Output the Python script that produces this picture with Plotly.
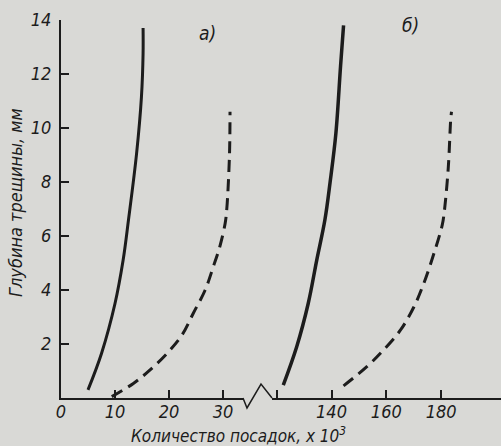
import plotly.graph_objects as go

# Panel a) (left x segment, 0..33 thousand landings)
a_solid_x = [5.0, 7.5, 10.0, 11.5, 12.5, 14.0, 14.9, 15.2, 15.2]
a_solid_y = [0.3, 1.65, 3.5, 5.1, 6.6, 9.06, 11.16, 12.76, 13.7]
a_dash_x = [9.4, 13.4, 16.5, 19.9, 22.4, 24.5, 26.7, 28.2, 29.4, 30.4, 30.7, 31.2, 31.3]
a_dash_y = [0.05, 0.54, 1.04, 1.71, 2.33, 3.14, 4.0, 4.86, 5.6, 6.47, 7.0, 9.0, 10.6]

# Panel б) (right x segment, 120..200 thousand landings)
b_solid_x = [122.4, 127.3, 131.5, 134.6, 137.6, 139.5, 141.6, 143.3, 144.4]
b_solid_y = [0.48, 1.9, 3.5, 5.1, 6.6, 8.0, 9.8, 12.28, 13.8]
b_dash_x = [144.4, 152.9, 159.0, 165.2, 170.1, 173.7, 177.4, 180.4, 181.1, 182.6, 183.5, 183.8]
b_dash_y = [0.45, 1.16, 1.78, 2.52, 3.38, 4.25, 5.36, 6.4, 6.84, 8.5, 10.3, 10.6]

y_ticks = [2, 4, 6, 8, 10, 12, 14]
x1_ticks = [0, 10, 20, 30]
x2_ticks = [140, 160, 180]
x2_first_tick = 120

INK = "#1c1c1c"
BG = "#d9d9d6"
FONT = "Liberation Sans Narrow, DejaVu Sans Condensed, Roboto Condensed, Roboto, sans-serif"

fig = go.Figure()
fig.add_trace(go.Scatter(x=a_solid_x, y=a_solid_y, mode="lines", xaxis="x", yaxis="y",
                         line=dict(color=INK, width=3, shape="spline"), showlegend=False))
fig.add_trace(go.Scatter(x=a_dash_x, y=a_dash_y, mode="lines", xaxis="x", yaxis="y",
                         line=dict(color=INK, width=3, shape="spline", dash="12px,7px"), showlegend=False))
fig.add_trace(go.Scatter(x=b_solid_x, y=b_solid_y, mode="lines", xaxis="x2", yaxis="y",
                         line=dict(color=INK, width=3.5, shape="spline"), showlegend=False))
fig.add_trace(go.Scatter(x=b_dash_x, y=b_dash_y, mode="lines", xaxis="x2", yaxis="y",
                         line=dict(color=INK, width=3, shape="spline", dash="12px,7px"), showlegend=False))

W, H = 501, 446
L, R, T, B = 61, 0, 20, 48
pw = W - L - R
ph = H - T - B

def px_x(p):
    return (p - L) / pw

def px_y(p):
    return (H - B - p) / ph

tickfont = dict(family=FONT, size=18, color=INK, style="italic")
common_x = dict(showgrid=False, zeroline=False, showline=True, linecolor=INK, linewidth=2,
                ticks="inside", ticklen=8, tickwidth=1.5, tickcolor=INK, tickfont=tickfont,
                ticklabelstandoff=-4, fixedrange=True)

fig.update_layout(
    width=W, height=H,
    margin=dict(l=L, r=R, t=T, b=B, pad=0),
    paper_bgcolor=BG, plot_bgcolor=BG,
    xaxis=dict(domain=[0, px_x(243)], range=[0, (243 - L) / 5.4], tickvals=x1_ticks,
               anchor="y", **common_x),
    xaxis2=dict(domain=[px_x(272), 1], range=[120 - (276.7 - 272) / 2.74, 120 + (501 - 276.7) / 2.74],
                tickvals=x2_ticks, anchor="y",
                minor=dict(tick0=x2_first_tick, dtick=100, ticks="inside", ticklen=8, tickwidth=1.5,
                           tickcolor=INK, showgrid=False),
                **common_x),
    yaxis=dict(range=[0, 14], tickvals=y_ticks, showgrid=False, zeroline=False, showline=True,
               linecolor=INK, linewidth=2, ticks="inside", ticklen=8, tickwidth=1.5, tickcolor=INK,
               tickfont=tickfont, ticklabelstandoff=4, fixedrange=True),
)

# broken-axis zigzag between the two x segments
zig = [(243, 398), (247, 408), (261, 384), (272, 398)]
path = "M " + " L ".join(f"{px_x(x):.5f},{px_y(y):.5f}" for x, y in zig)
fig.add_shape(type="path", path=path, xref="paper", yref="paper",
              line=dict(color=INK, width=1.5))

fig.add_annotation(text="Глубина трещины, мм", textangle=-90, xref="paper", yref="paper",
                   x=px_x(16), y=px_y(203), xanchor="center", yanchor="middle", showarrow=False,
                   font=dict(family=FONT, size=18, color=INK, style="italic"))
fig.add_annotation(text="Количество посадок, x 10<sup>3</sup>", xref="paper", yref="paper",
                   x=px_x(238), y=px_y(435), xanchor="center", yanchor="middle", showarrow=False,
                   font=dict(family=FONT, size=17, color=INK, style="italic"))
fig.add_annotation(text="а)", xref="paper", yref="paper", x=px_x(207), y=px_y(33),
                   xanchor="center", yanchor="middle", showarrow=False,
                   font=dict(family=FONT, size=19, color=INK, style="italic"))
fig.add_annotation(text="б)", xref="paper", yref="paper", x=px_x(410), y=px_y(25),
                   xanchor="center", yanchor="middle", showarrow=False,
                   font=dict(family=FONT, size=19, color=INK, style="italic"))

fig.write_html("out.html")
